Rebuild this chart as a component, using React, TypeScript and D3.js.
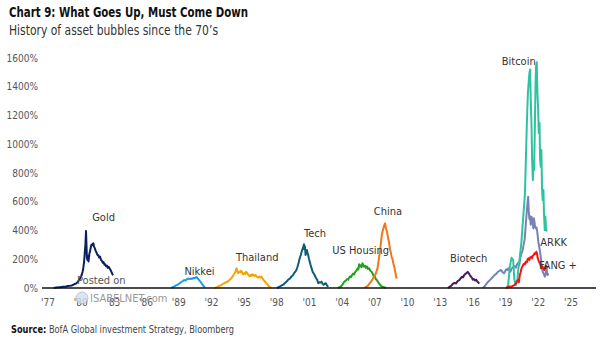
import React from "react";
import * as d3 from "d3";

type P = [number, number];

const yTicks = [0, 200, 400, 600, 800, 1000, 1200, 1400, 1600];
const xTickYears = [1977, 1980, 1983, 1986, 1989, 1992, 1995, 1998, 2001, 2004, 2007, 2010, 2013, 2016, 2019, 2022, 2025];

const gold: P[] = [[1977.5,0],[1977.8,3],[1978.1,6],[1978.4,9],[1978.6,8],[1978.8,14],[1979.0,15],[1979.2,18],[1979.4,26],[1979.6,32],[1979.75,44],[1979.9,60],[1980.0,75],[1980.1,92],[1980.18,115],[1980.24,140],[1980.3,175],[1980.34,210],[1980.39,260],[1980.43,300],[1980.47,360],[1980.49,397],[1980.53,300],[1980.57,215],[1980.62,195],[1980.68,222],[1980.72,185],[1980.8,240],[1980.86,255],[1980.92,280],[1980.98,300],[1981.04,296],[1981.1,308],[1981.16,311],[1981.22,290],[1981.3,276],[1981.38,258],[1981.46,245],[1981.54,230],[1981.62,228],[1981.7,212],[1981.78,218],[1981.86,196],[1981.94,190],[1982.02,176],[1982.1,180],[1982.18,162],[1982.26,165],[1982.34,150],[1982.42,155],[1982.5,140],[1982.58,146],[1982.66,135],[1982.74,125],[1982.82,112],[1982.9,98],[1982.98,88]];
const nikkei: P[] = [[1988.3,0],[1988.45,5],[1988.6,12],[1988.75,18],[1988.9,24],[1989.05,30],[1989.2,40],[1989.35,47],[1989.5,55],[1989.62,52],[1989.75,62],[1989.9,66],[1990.0,62],[1990.1,66],[1990.2,63],[1990.32,70],[1990.45,68],[1990.55,74],[1990.65,76],[1990.72,66],[1990.8,62],[1990.9,50],[1991.0,44],[1991.1,32],[1991.2,22],[1991.3,12],[1991.4,3]];
const thailand: P[] = [[1992.3,0],[1992.45,3],[1992.6,10],[1992.75,14],[1992.9,20],[1993.05,28],[1993.2,34],[1993.35,40],[1993.5,45],[1993.65,55],[1993.8,66],[1993.95,80],[1994.1,100],[1994.2,112],[1994.3,138],[1994.38,120],[1994.46,104],[1994.54,112],[1994.62,108],[1994.7,120],[1994.78,116],[1994.86,100],[1994.94,94],[1995.02,105],[1995.1,98],[1995.18,112],[1995.26,108],[1995.34,96],[1995.42,88],[1995.5,82],[1995.58,90],[1995.66,84],[1995.74,96],[1995.82,88],[1995.9,92],[1995.98,84],[1996.06,90],[1996.14,80],[1996.22,76],[1996.3,72],[1996.4,80],[1996.5,74],[1996.6,79],[1996.7,65],[1996.8,54],[1996.9,46],[1997.0,36],[1997.1,28],[1997.2,18],[1997.3,10],[1997.4,5],[1997.5,0]];
const tech: P[] = [[1998.0,0],[1998.15,5],[1998.3,12],[1998.45,18],[1998.6,23],[1998.75,35],[1998.9,45],[1999.05,58],[1999.2,66],[1999.35,80],[1999.5,90],[1999.6,105],[1999.7,113],[1999.8,125],[1999.9,148],[2000.0,175],[2000.1,207],[2000.2,230],[2000.28,253],[2000.36,270],[2000.44,290],[2000.49,304],[2000.53,270],[2000.58,290],[2000.64,230],[2000.7,250],[2000.76,264],[2000.82,245],[2000.88,230],[2000.94,207],[2001.0,190],[2001.1,160],[2001.2,135],[2001.3,110],[2001.4,100],[2001.5,85],[2001.6,70],[2001.7,58],[2001.8,33],[2001.9,40],[2002.0,38],[2002.1,44],[2002.2,30],[2002.3,22],[2002.4,30],[2002.5,33],[2002.6,18],[2002.72,8]];
const usHousing: P[] = [[2003.6,0],[2003.75,5],[2003.9,12],[2004.05,25],[2004.15,40],[2004.3,50],[2004.45,62],[2004.55,58],[2004.7,80],[2004.8,75],[2004.9,90],[2005.0,100],[2005.1,95],[2005.2,112],[2005.3,120],[2005.4,135],[2005.48,128],[2005.55,165],[2005.62,150],[2005.7,158],[2005.78,145],[2005.86,172],[2005.94,160],[2006.02,148],[2006.1,155],[2006.18,140],[2006.28,150],[2006.38,132],[2006.48,137],[2006.58,120],[2006.7,113],[2006.8,100],[2006.9,80],[2007.0,79],[2007.1,60],[2007.2,55],[2007.3,40],[2007.45,25],[2007.6,12],[2007.75,8],[2007.9,3],[2008.05,0]];
const china: P[] = [[2006.05,0],[2006.2,8],[2006.35,15],[2006.5,30],[2006.65,45],[2006.8,62],[2006.95,80],[2007.05,95],[2007.15,115],[2007.25,140],[2007.32,175],[2007.4,220],[2007.48,260],[2007.56,320],[2007.64,370],[2007.72,400],[2007.8,420],[2007.88,440],[2007.93,450],[2007.98,430],[2008.04,410],[2008.1,395],[2008.16,370],[2008.22,345],[2008.3,320],[2008.38,270],[2008.46,250],[2008.54,215],[2008.62,200],[2008.7,170],[2008.8,140],[2008.9,100],[2008.99,65]];
const biotech: P[] = [[2013.7,0],[2013.85,8],[2014.0,14],[2014.15,28],[2014.3,35],[2014.45,32],[2014.6,48],[2014.75,55],[2014.9,70],[2015.0,78],[2015.1,75],[2015.2,90],[2015.3,98],[2015.42,104],[2015.52,112],[2015.6,105],[2015.7,92],[2015.8,80],[2015.9,72],[2016.0,58],[2016.1,62],[2016.2,52],[2016.3,58],[2016.4,45],[2016.5,38],[2016.58,30]];
const arkk: P[] = [[2016.9,0],[2017.05,10],[2017.2,25],[2017.4,44],[2017.55,55],[2017.7,66],[2017.85,79],[2018.0,90],[2018.15,100],[2018.3,113],[2018.45,120],[2018.6,125],[2018.72,110],[2018.85,102],[2018.95,115],[2019.05,130],[2019.15,125],[2019.25,137],[2019.35,122],[2019.45,115],[2019.55,135],[2019.65,140],[2019.75,148],[2019.85,152],[2019.95,142],[2020.05,165],[2020.15,175],[2020.25,160],[2020.35,210],[2020.45,240],[2020.55,260],[2020.65,300],[2020.75,340],[2020.85,440],[2020.95,540],[2021.02,600],[2021.07,635],[2021.12,540],[2021.18,480],[2021.24,500],[2021.3,440],[2021.38,496],[2021.46,470],[2021.54,415],[2021.6,485],[2021.68,440],[2021.76,415],[2021.84,420],[2021.92,380],[2022.0,322],[2022.1,280],[2022.2,230],[2022.3,160],[2022.4,113],[2022.5,100],[2022.6,79],[2022.68,95],[2022.75,137],[2022.81,110],[2022.86,90],[2022.9,102]];
const bitcoin: P[] = [[2019.08,0],[2019.23,20],[2019.39,150],[2019.54,210],[2019.69,195],[2019.8,60],[2019.94,20],[2020.08,60],[2020.15,120],[2020.31,220],[2020.46,330],[2020.61,490],[2020.77,650],[2020.86,900],[2020.95,1150],[2021.04,1350],[2021.13,1450],[2021.19,1500],[2021.25,1520],[2021.31,1300],[2021.38,1120],[2021.43,900],[2021.5,750],[2021.56,880],[2021.61,820],[2021.68,1100],[2021.74,1400],[2021.79,1540],[2021.86,1570],[2021.92,1350],[2021.98,1260],[2022.04,1078],[2022.11,1148],[2022.16,900],[2022.22,844],[2022.28,960],[2022.34,700],[2022.4,612],[2022.47,682],[2022.52,520],[2022.59,403],[2022.65,496],[2022.7,420],[2022.76,392]];
const fang: P[] = [[2019.05,0],[2019.2,5],[2019.35,10],[2019.5,8],[2019.65,14],[2019.8,20],[2019.95,33],[2020.05,45],[2020.15,58],[2020.22,40],[2020.3,90],[2020.38,110],[2020.46,137],[2020.54,150],[2020.62,162],[2020.7,170],[2020.78,165],[2020.86,183],[2020.94,178],[2021.02,200],[2021.1,207],[2021.18,195],[2021.26,212],[2021.34,218],[2021.42,208],[2021.5,225],[2021.58,230],[2021.66,242],[2021.74,238],[2021.82,252],[2021.88,240],[2021.94,210],[2022.0,195],[2022.08,180],[2022.16,172],[2022.24,150],[2022.3,137],[2022.38,150],[2022.46,140],[2022.54,125],[2022.62,130],[2022.7,155],[2022.78,148],[2022.85,137]];

const seriesNames = ["Gold", "Nikkei", "Thailand", "Tech", "US Housing", "China", "Biotech", "ARKK", "Bitcoin", "FANG +"];
const seriesData: P[][] = [gold, nikkei, thailand, tech, usHousing, china, biotech, arkk, bitcoin, fang];
const seriesColors = ["#0b1f5e", "#1e9be2", "#f7a400", "#0e5d78", "#22a21c", "#f47418", "#4a1a5c", "#7783b4", "#2ec3a0", "#ff1010"];
// label anchor in data coords [year, pct]
const labelPos: P[] = [[1982.1, 495], [1990.9, 118], [1996.2, 215], [2001.5, 385], [2005.7, 265], [2008.2, 535], [2015.6, 210], [2023.4, 320], [2020.2, 1580], [2023.8, 160]];

const FONT = "'Liberation Sans Narrow', 'DejaVu Sans Condensed', 'Roboto Condensed', 'Liberation Sans', sans-serif";

export default function App() {
  const W = 605, H = 341;
  const x = d3.scaleLinear().domain([1977, 2025]).range([48, 571]);
  const y = d3.scaleLinear().domain([0, 1600]).range([288, 58]);
  const line = d3.line<P>().x(d => x(d[0])).y(d => y(d[1]));

  return (
    <svg width={W} height={H} style={{ position: "absolute", left: 0, top: 0, background: "#fff" }} fontFamily={FONT}>
      <rect width={W} height={H} fill="#fff" />
      <text x={9} y={17} fontSize={13.5} fontWeight="bold" fill="#111" textLength={239} lengthAdjust="spacingAndGlyphs">Chart 9: What Goes Up, Must Come Down</text>
      <text x={9} y={35} fontSize={13.5} fill="#333" textLength={209} lengthAdjust="spacingAndGlyphs">History of asset bubbles since the 70’s</text>

      {yTicks.map(t => (
        <text key={t} x={38} y={y(t)} dy="0.35em" textAnchor="end" fontSize={10} fill="#555">{t}%</text>
      ))}

      {xTickYears.map(t => (
        <text key={t} x={x(t)} y={302} dy="0.35em" textAnchor="middle" fontSize={10} fill="#555">{"'" + String(t).slice(2)}</text>
      ))}

      {seriesData.map((s, i) => (
        <path key={seriesNames[i]} d={line(s) || ""} fill="none" stroke={seriesColors[i]} strokeWidth={2} strokeLinejoin="round" />
      ))}

      <line x1={42} x2={596} y1={y(0)} y2={y(0)} stroke="#111" strokeWidth={1.3} />

      {seriesNames.map((n, i) => (
        <text key={n} x={x(labelPos[i][0])} y={y(labelPos[i][1])} dy="0.35em" textAnchor="middle" fontSize={11} fill="#333">{n}</text>
      ))}

      {/* watermark */}
      <text x={77} y={284} fontSize={11} fill="#555">Posted on</text>
      <circle cx={82} cy={298} r={6} fill="#cfe3f0" stroke="#9ab" strokeWidth={0.8} opacity={0.8} />
      <text x={90} y={302} fontSize={11} fill="#999">ISABELNET.com</text>

      <text x={11} y={333} fontSize={10} fill="#111" textLength={223} lengthAdjust="spacingAndGlyphs">
        <tspan fontWeight="bold">Source:</tspan>
        <tspan fill="#444"> BofA Global investment Strategy, Bloomberg</tspan>
      </text>
    </svg>
  );
}
